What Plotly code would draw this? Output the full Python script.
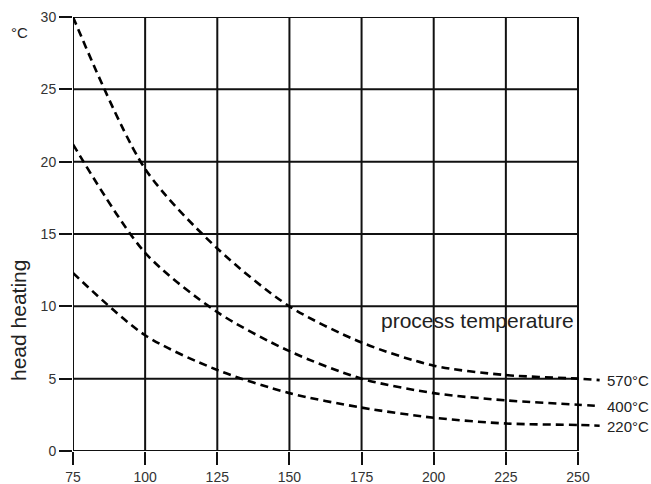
import plotly.graph_objects as go

x_vals = [75, 100, 125, 150, 175, 200, 225, 250, 257.5]
y_570 = [30.0, 19.5, 14.0, 10.0, 7.5, 5.9, 5.25, 5.0, 4.9]
y_400 = [21.2, 13.7, 9.6, 6.9, 5.0, 4.0, 3.5, 3.2, 3.1]
y_220 = [12.3, 8.0, 5.6, 4.0, 3.0, 2.3, 1.9, 1.8, 1.75]
series_labels = ["570°C", "400°C", "220°C"]
x_ticks = [75, 100, 125, 150, 175, 200, 225, 250]
y_ticks = [0, 5, 10, 15, 20, 25, 30]

grid_color = "#111111"
font_family = "Liberation Sans, Arial, sans-serif"

W, H = 651, 484
ml, mr, mt, mb = 73, 30, 17, 33
pw, ph = W - ml - mr, H - mt - mb

fig = go.Figure()
for ys in (y_570, y_400, y_220):
    fig.add_trace(go.Scatter(
        x=x_vals, y=ys, mode="lines",
        line=dict(color="black", width=2.6, dash="8px,5px", shape="spline", smoothing=0.8),
        showlegend=False, hoverinfo="skip"))

shapes = []
for xv in x_ticks:
    shapes.append(dict(type="line", xref="x", yref="y", x0=xv, x1=xv, y0=0, y1=30,
                       line=dict(color=grid_color, width=2), layer="below"))
for yv in y_ticks:
    shapes.append(dict(type="line", xref="x", yref="y", x0=75, x1=250, y0=yv, y1=yv,
                       line=dict(color=grid_color, width=2), layer="below"))

annotations = []
for lab, ys in zip(series_labels, (y_570, y_400, y_220)):
    annotations.append(dict(x=259.5, y=ys[-1] - 0.05, xref="x", yref="y", text=lab,
                            showarrow=False, xanchor="left", yanchor="middle",
                            font=dict(size=15, color="#222", family=font_family)))
annotations.append(dict(x=249.3, y=9.0, xref="x", yref="y", text="process temperature",
                        showarrow=False, xanchor="right", yanchor="middle",
                        font=dict(size=21, color="#222", family=font_family)))


def paper(px, py):
    return (px - ml) / pw, 1 - (py - mt) / ph


cx, cy = paper(19, 33)
annotations.append(dict(x=cx, y=cy, xref="paper", yref="paper", text="°C",
                        showarrow=False, xanchor="center", yanchor="middle",
                        font=dict(size=15, color="#222", family=font_family)))
hx, hy = paper(18, 321)
annotations.append(dict(x=hx, y=hy, xref="paper", yref="paper", text="head heating",
                        showarrow=False, textangle=-90, xanchor="center", yanchor="middle",
                        font=dict(size=21, color="#222", family=font_family)))

fig.update_layout(
    width=W, height=H,
    margin=dict(l=ml, r=mr, t=mt, b=mb, autoexpand=False),
    plot_bgcolor="white", paper_bgcolor="white",
    shapes=shapes, annotations=annotations,
    font=dict(family=font_family, size=14, color="#333"),
    xaxis=dict(range=[75, 75 + pw / (505 / 175)], showgrid=False, zeroline=False,
               tickvals=x_ticks, ticks="outside", ticklen=13, tickwidth=2,
               tickcolor=grid_color, showline=False, fixedrange=True, automargin=False,
               tickfont=dict(size=14, color="#333")),
    yaxis=dict(range=[0, 30], showgrid=False, zeroline=False, tickvals=y_ticks,
               ticks="outside", ticklen=13, tickwidth=2, tickcolor=grid_color,
               showline=False, fixedrange=True, automargin=False,
               tickfont=dict(size=14, color="#333")),
)
fig.write_html("out.html", config={"displayModeBar": False},
               post_script="document.body.style.margin='0';")
